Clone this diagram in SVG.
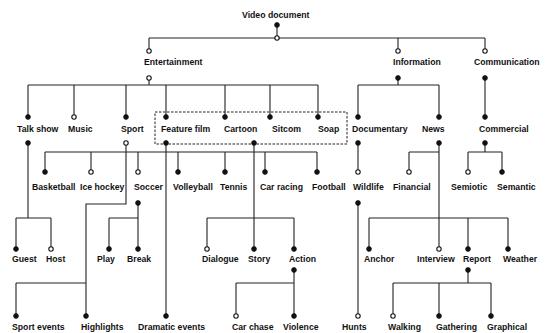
<svg xmlns="http://www.w3.org/2000/svg" width="550" height="333" viewBox="0 0 550 333">
<style>
text{font-family:"Liberation Sans",Arial,sans-serif;font-size:8.7px;font-weight:bold;fill:#111}
.c{fill:none;stroke:#222;stroke-width:1.1}
.f{fill:#111;stroke:#111;stroke-width:0.8}
.o{fill:#fff;stroke:#111;stroke-width:1.1}
.box{fill:none;stroke:#222;stroke-width:1;stroke-dasharray:2.5,1.5}
</style>
<rect width="550" height="333" fill="#fff"/>
<g id="connectors">
<path class="c" d="M277 25V38M149 38H485M149 38V51M398 38V51M485 38V51"/>
<path class="c" d="M149 78V85M28 85H318M28 85V117M74 85V117M126 85V117M166 85V117M225 85V117M270 85V117M318 85V117"/>
<path class="c" d="M398 78V85M358 85H439M358 85V117M439 85V117M485 78V117"/>
<path class="c" d="M28 143V218M16 218H51M16 218V249M51 218V249"/>
<path class="c" d="M126 143V204H86V316M16 283H86M16 283V316"/>
<path class="c" d="M45 152H317M45 152V172M91 152V172M138 152V172M178 152V172M225 152V172M265 152V172M317 152V172"/>
<path class="c" d="M166 143V316"/>
<path class="c" d="M138 203V218M109 218H138M109 218V249M138 218V249"/>
<path class="c" d="M254 143V249M207 218H294M207 218V249M294 218V249"/>
<path class="c" d="M294 270V316M236 283H294M236 283V316"/>
<path class="c" d="M358 143V172M358 203V316"/>
<path class="c" d="M439 143V249M409 152H439M409 152V172M369 218H508M369 218V249M468 218V249M508 218V249"/>
<path class="c" d="M485 143V152M468 152H502M468 152V172M502 152V172"/>
<path class="c" d="M468 270V283M393 283H491M393 283V316M439 283V316M491 283V316"/>
</g>
<g id="video-document"><text x="242" y="18">Video document</text><circle class="f" cx="277" cy="25" r="2.4"/><circle class="o" cx="277" cy="38" r="2.2"/></g>
<g id="entertainment"><circle class="o" cx="149" cy="51" r="2.2"/><text x="144" y="65">Entertainment</text><circle class="o" cx="149" cy="78" r="2.2"/></g>
<g id="information"><circle class="o" cx="398" cy="51" r="2.2"/><text x="393" y="65">Information</text><circle class="f" cx="398" cy="78" r="2.4"/></g>
<g id="communication"><circle class="o" cx="485" cy="51" r="2.2"/><text x="474" y="65">Communication</text><circle class="f" cx="485" cy="78" r="2.4"/></g>
<g id="talk-show"><circle class="f" cx="28" cy="117" r="2.4"/><text x="17" y="132">Talk show</text><circle class="f" cx="28" cy="143" r="2.4"/></g>
<g id="music"><circle class="o" cx="74" cy="117" r="2.2"/><text x="68" y="132">Music</text></g>
<g id="sport"><circle class="f" cx="126" cy="117" r="2.4"/><text x="121" y="132">Sport</text><circle class="o" cx="126" cy="143" r="2.2"/></g>
<g id="film-group"><rect class="box" x="155" y="112" width="192" height="32"/><circle class="f" cx="254" cy="143" r="2.4"/></g>
<g id="feature-film"><circle class="f" cx="166" cy="117" r="2.4"/><text x="161" y="132">Feature film</text><circle class="f" cx="166" cy="143" r="2.4"/></g>
<g id="cartoon"><circle class="f" cx="225" cy="117" r="2.4"/><text x="224" y="132">Cartoon</text></g>
<g id="sitcom"><circle class="f" cx="270" cy="117" r="2.4"/><text x="272" y="132">Sitcom</text></g>
<g id="soap"><circle class="f" cx="318" cy="117" r="2.4"/><text x="318" y="132">Soap</text></g>
<g id="documentary"><circle class="f" cx="358" cy="117" r="2.4"/><text x="352" y="132">Documentary</text><circle class="f" cx="358" cy="143" r="2.4"/></g>
<g id="news"><circle class="f" cx="439" cy="117" r="2.4"/><text x="422" y="132">News</text><circle class="f" cx="439" cy="143" r="2.4"/></g>
<g id="commercial"><circle class="f" cx="485" cy="117" r="2.4"/><text x="479" y="132">Commercial</text><circle class="f" cx="485" cy="143" r="2.4"/></g>
<g id="basketball"><circle class="f" cx="45" cy="172" r="2.4"/><text x="32" y="190">Basketball</text></g>
<g id="ice-hockey"><circle class="o" cx="91" cy="172" r="2.2"/><text x="80" y="190">Ice hockey</text></g>
<g id="soccer"><circle class="o" cx="138" cy="172" r="2.2"/><text x="134" y="190">Soccer</text><circle class="f" cx="138" cy="203" r="2.4"/></g>
<g id="volleyball"><circle class="f" cx="178" cy="172" r="2.4"/><text x="173" y="190">Volleyball</text></g>
<g id="tennis"><circle class="f" cx="225" cy="172" r="2.4"/><text x="220" y="190">Tennis</text></g>
<g id="car-racing"><circle class="f" cx="265" cy="172" r="2.4"/><text x="260" y="190">Car racing</text></g>
<g id="football"><circle class="f" cx="317" cy="172" r="2.4"/><text x="312" y="190">Football</text></g>
<g id="wildlife"><circle class="o" cx="358" cy="172" r="2.2"/><text x="353" y="190">Wildlife</text><circle class="f" cx="358" cy="203" r="2.4"/></g>
<g id="financial"><circle class="o" cx="409" cy="172" r="2.2"/><text x="393" y="190">Financial</text></g>
<g id="semiotic"><circle class="o" cx="468" cy="172" r="2.2"/><text x="451" y="190">Semiotic</text></g>
<g id="semantic"><circle class="f" cx="502" cy="172" r="2.4"/><text x="497" y="190">Semantic</text></g>
<g id="guest"><circle class="f" cx="16" cy="249" r="2.4"/><text x="12" y="262">Guest</text></g>
<g id="host"><circle class="o" cx="51" cy="249" r="2.2"/><text x="46" y="262">Host</text></g>
<g id="play"><circle class="f" cx="109" cy="249" r="2.4"/><text x="97" y="262">Play</text></g>
<g id="break"><circle class="f" cx="138" cy="249" r="2.4"/><text x="127" y="262">Break</text></g>
<g id="dialogue"><circle class="o" cx="207" cy="249" r="2.2"/><text x="202" y="262">Dialogue</text></g>
<g id="story"><circle class="f" cx="254" cy="249" r="2.4"/><text x="248" y="262">Story</text></g>
<g id="action"><circle class="f" cx="294" cy="249" r="2.4"/><text x="289" y="262">Action</text><circle class="f" cx="294" cy="270" r="2.4"/></g>
<g id="anchor"><circle class="f" cx="369" cy="249" r="2.4"/><text x="364" y="262">Anchor</text></g>
<g id="interview"><circle class="o" cx="439" cy="249" r="2.2"/><text x="417" y="262">Interview</text></g>
<g id="report"><circle class="f" cx="468" cy="249" r="2.4"/><text x="463" y="262">Report</text><circle class="f" cx="468" cy="270" r="2.4"/></g>
<g id="weather"><circle class="f" cx="508" cy="249" r="2.4"/><text x="503" y="262">Weather</text></g>
<g id="sport-events"><circle class="f" cx="16" cy="316" r="2.4"/><text x="12" y="330">Sport events</text></g>
<g id="highlights"><circle class="f" cx="86" cy="316" r="2.4"/><text x="81" y="330">Highlights</text></g>
<g id="dramatic-events"><circle class="f" cx="166" cy="316" r="2.4"/><text x="138" y="330">Dramatic events</text></g>
<g id="car-chase"><circle class="o" cx="236" cy="316" r="2.2"/><text x="232" y="330">Car chase</text></g>
<g id="violence"><circle class="f" cx="294" cy="316" r="2.4"/><text x="283" y="330">Violence</text></g>
<g id="hunts"><circle class="o" cx="358" cy="316" r="2.2"/><text x="342" y="330">Hunts</text></g>
<g id="walking"><circle class="o" cx="393" cy="316" r="2.2"/><text x="388" y="330">Walking</text></g>
<g id="gathering"><circle class="f" cx="439" cy="316" r="2.4"/><text x="436" y="330">Gathering</text></g>
<g id="graphical"><circle class="f" cx="491" cy="316" r="2.4"/><text x="487" y="330">Graphical</text></g>
</svg>
